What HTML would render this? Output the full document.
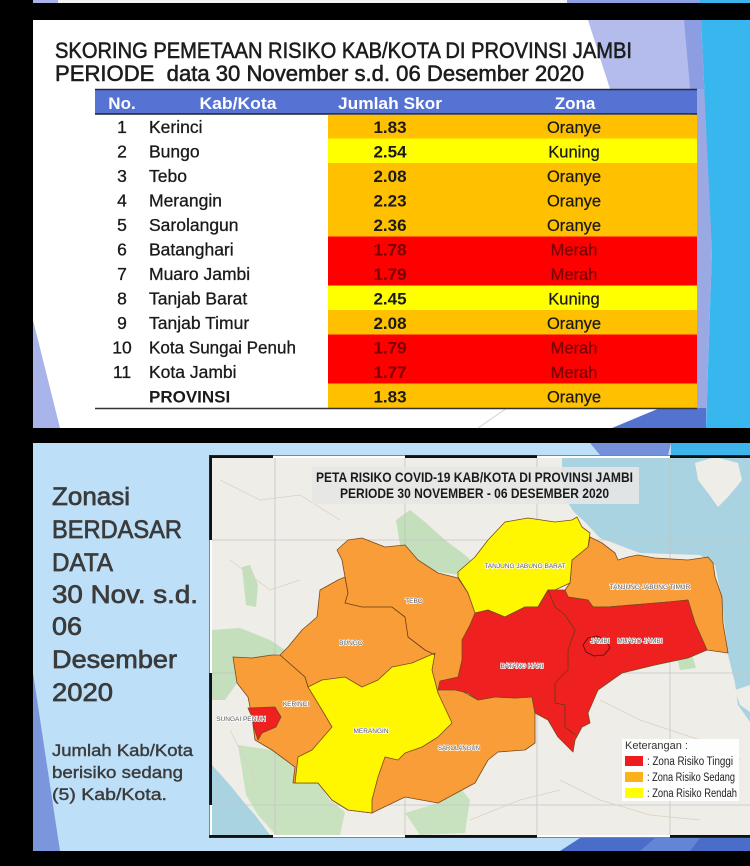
<!DOCTYPE html>
<html><head><meta charset="utf-8"><style>
html,body{margin:0;padding:0;background:#000;}
svg{display:block}
text{font-family:"Liberation Sans",sans-serif}
.nar{font-family:"Liberation Sans Narrow","Liberation Sans",sans-serif}
.lbl{font-size:6.5px;fill:#555;stroke:#fff;stroke-width:1.4px;paint-order:stroke;font-family:"Liberation Sans Narrow","Liberation Sans",sans-serif}
</style></head><body>
<svg width="750" height="866" viewBox="0 0 750 866" xmlns="http://www.w3.org/2000/svg">
<defs>
<clipPath id="mapclip"><rect x="212" y="458" width="538" height="377"/></clipPath>
</defs>
<rect width="750" height="866" fill="#000"/>
<!-- top strip -->
<rect x="33" y="0" width="717" height="3" fill="#f2f2f2"/>
<rect x="33" y="0" width="25" height="3" fill="#a9b5ea"/>
<rect x="567" y="0" width="133" height="3" fill="#8e9fe2"/>
<rect x="700" y="0" width="50" height="3" fill="#3ab5ec"/>

<!-- TOP SLIDE -->
<rect x="33" y="20" width="717" height="408" fill="#ffffff"/>
<polygon points="33,320 60,428 33,428" fill="#a9b5ea"/>
<polygon points="588,20 684,20 698,89 610,89" fill="#b3bcec"/>
<polygon points="684,20 701,20 712,250 700,200" fill="#8d9de1"/>
<polygon points="697,89 708,89 712,250 706,428 697,428" fill="#9aa9e4"/>
<polygon points="701,20 750,20 750,428 706,428 712,250" fill="#38b6ee"/>
<polygon points="612,428 660,408 706,408 706,428" fill="#5473cf"/>
<line x1="478" y1="428" x2="507" y2="408" stroke="#d0d0d0" stroke-width="1"/>

<g fill="#1c1c1c" stroke="#1c1c1c" stroke-width="0.55">
<text x="55" y="58" font-size="22" textLength="577" lengthAdjust="spacingAndGlyphs">SKORING PEMETAAN RISIKO KAB/KOTA DI PROVINSI JAMBI</text>
<text x="55" y="81" font-size="22" textLength="529" lengthAdjust="spacingAndGlyphs" style="white-space:pre">PERIODE  data 30 November s.d. 06 Desember 2020</text>
</g>

<!-- table header -->
<rect x="95" y="89" width="602" height="25" fill="#5673d3"/>
<line x1="95" y1="89.5" x2="697" y2="89.5" stroke="#2a2a3a" stroke-width="1.5"/>
<line x1="95" y1="114" x2="697" y2="114" stroke="#1e1e2a" stroke-width="1.5"/>
<g fill="#fff" font-size="17" font-weight="bold">
<text x="122" y="109" text-anchor="middle">No.</text>
<text x="238" y="109" text-anchor="middle" textLength="77" lengthAdjust="spacingAndGlyphs">Kab/Kota</text>
<text x="390" y="109" text-anchor="middle" textLength="104" lengthAdjust="spacingAndGlyphs">Jumlah Skor</text>
<text x="575" y="109" text-anchor="middle">Zona</text>
</g>

<!-- rows colors -->
<g>
<rect x="328" y="114.8" width="369" height="24.2" fill="#ffc000"/>
<rect x="328" y="138.5" width="369" height="24.5" fill="#ffff00"/>
<rect x="328" y="163" width="369" height="73.5" fill="#ffc000"/>
<rect x="328" y="236.5" width="369" height="49" fill="#ff0000"/>
<rect x="328" y="285.5" width="369" height="24.5" fill="#ffff00"/>
<rect x="328" y="310" width="369" height="24.5" fill="#ffc000"/>
<rect x="328" y="334.5" width="369" height="49" fill="#ff0000"/>
<rect x="328" y="383.5" width="369" height="24.5" fill="#ffc000"/>
</g>
<line x1="95" y1="408.5" x2="697" y2="408.5" stroke="#333" stroke-width="1.6"/>

<g font-size="17.5" fill="#1a1a1a" stroke="#1a1a1a" stroke-width="0.3">
<text x="122" y="133" text-anchor="middle">1</text><text x="149" y="133">Kerinci</text>
<text x="122" y="157.5" text-anchor="middle">2</text><text x="149" y="157.5">Bungo</text>
<text x="122" y="182" text-anchor="middle">3</text><text x="149" y="182">Tebo</text>
<text x="122" y="206.5" text-anchor="middle">4</text><text x="149" y="206.5">Merangin</text>
<text x="122" y="231" text-anchor="middle">5</text><text x="149" y="231">Sarolangun</text>
<text x="122" y="255.5" text-anchor="middle">6</text><text x="149" y="255.5">Batanghari</text>
<text x="122" y="280" text-anchor="middle">7</text><text x="149" y="280">Muaro Jambi</text>
<text x="122" y="304.5" text-anchor="middle">8</text><text x="149" y="304.5">Tanjab Barat</text>
<text x="122" y="329" text-anchor="middle">9</text><text x="149" y="329">Tanjab Timur</text>
<text x="122" y="353.5" text-anchor="middle">10</text><text x="149" y="353.5" textLength="147" lengthAdjust="spacingAndGlyphs">Kota Sungai Penuh</text>
<text x="122" y="378" text-anchor="middle">11</text><text x="149" y="378">Kota Jambi</text>
<text x="149" y="402.5" font-weight="bold" font-size="17" stroke-width="0">PROVINSI</text>
</g>
<g font-size="17" font-weight="bold" text-anchor="middle">
<text x="390" y="133" fill="#1a1a1a">1.83</text>
<text x="390" y="157.5" fill="#1a1a1a">2.54</text>
<text x="390" y="182" fill="#1a1a1a">2.08</text>
<text x="390" y="206.5" fill="#1a1a1a">2.23</text>
<text x="390" y="231" fill="#1a1a1a">2.36</text>
<text x="390" y="255.5" fill="#7a0000">1.78</text>
<text x="390" y="280" fill="#7a0000">1.79</text>
<text x="390" y="304.5" fill="#1a1a1a">2.45</text>
<text x="390" y="329" fill="#1a1a1a">2.08</text>
<text x="390" y="353.5" fill="#7a0000">1.79</text>
<text x="390" y="378" fill="#7a0000">1.77</text>
<text x="390" y="402.5" fill="#1a1a1a">1.83</text>
</g>
<g font-size="16.5" text-anchor="middle" stroke-width="0.25">
<text x="574" y="133" fill="#1a1a1a" stroke="#1a1a1a">Oranye</text>
<text x="574" y="157.5" fill="#1a1a1a" stroke="#1a1a1a">Kuning</text>
<text x="574" y="182" fill="#1a1a1a" stroke="#1a1a1a">Oranye</text>
<text x="574" y="206.5" fill="#1a1a1a" stroke="#1a1a1a">Oranye</text>
<text x="574" y="231" fill="#1a1a1a" stroke="#1a1a1a">Oranye</text>
<text x="574" y="255.5" fill="#7a0000" stroke="#7a0000">Merah</text>
<text x="574" y="280" fill="#7a0000" stroke="#7a0000">Merah</text>
<text x="574" y="304.5" fill="#1a1a1a" stroke="#1a1a1a">Kuning</text>
<text x="574" y="329" fill="#1a1a1a" stroke="#1a1a1a">Oranye</text>
<text x="574" y="353.5" fill="#7a0000" stroke="#7a0000">Merah</text>
<text x="574" y="378" fill="#7a0000" stroke="#7a0000">Merah</text>
<text x="574" y="402.5" fill="#1a1a1a" stroke="#1a1a1a">Oranye</text>
</g>

<!-- LOWER SLIDE -->
<rect x="33" y="443" width="717" height="408" fill="#bde0f8"/>
<polygon points="33,673 60,851 33,851" fill="#7b96dc"/>
<polygon points="590,443 671,443 668,455 600,455" fill="#7590da"/>
<rect x="671" y="443" width="79" height="12" fill="#3db5ec"/>
<polygon points="560,851 580,838 750,838 750,851" fill="#4a6dc9"/>
<polygon points="640,851 655,838 700,838 690,851" fill="#6485d6"/>

<g fill="#3b3b3b" stroke="#3b3b3b" stroke-width="0.7" font-size="25">
<text x="52" y="505" textLength="78" lengthAdjust="spacingAndGlyphs">Zonasi</text>
<text x="52" y="538" textLength="130" lengthAdjust="spacingAndGlyphs">BERDASAR</text>
<text x="52" y="571" textLength="61" lengthAdjust="spacingAndGlyphs">DATA</text>
<text x="52" y="603" textLength="146" lengthAdjust="spacingAndGlyphs">30 Nov. s.d.</text>
<text x="52" y="635" textLength="30" lengthAdjust="spacingAndGlyphs">06</text>
<text x="52" y="668" textLength="125" lengthAdjust="spacingAndGlyphs">Desember</text>
<text x="52" y="701" textLength="61" lengthAdjust="spacingAndGlyphs">2020</text>
</g>
<g fill="#3b3b3b" stroke="#3b3b3b" stroke-width="0.4" font-size="16.5">
<text x="52" y="756" textLength="141" lengthAdjust="spacingAndGlyphs">Jumlah Kab/Kota</text>
<text x="52" y="778" textLength="131" lengthAdjust="spacingAndGlyphs">berisiko sedang</text>
<text x="52" y="800" textLength="115" lengthAdjust="spacingAndGlyphs">(5) Kab/Kota.</text>
</g>

<!-- MAP -->
<g clip-path="url(#mapclip)">
<rect x="212" y="458" width="538" height="377" fill="#efede7"/>
<!-- sea NE -->
<polygon points="562,458 750,458 750,722 738,705 735,683 728,655 722,600 715,565 700,555 640,553 600,538 585,522 574,512 566,500 562,480" fill="#a9d3e0"/>
<polygon points="695,463 715,457 738,463 742,480 728,497 718,507 708,493 698,480" fill="#efede7"/>
<polygon points="735,690 750,685 750,712 740,705" fill="#efede7"/>
<!-- sea SW -->
<polygon points="212,765 230,785 242,800 255,815 270,835 212,835" fill="#a9d3e0"/>
<!-- green -->
<polygon points="396,520 410,510 425,522 445,540 465,555 476,565 460,575 438,572 418,560 400,545" fill="#c3dfbb"/>
<polygon points="242,567 250,565 258,585 256,607 246,605" fill="#c3dfbb"/>
<polygon points="212,630 240,628 270,640 288,652 242,660 233,657 237,683 225,700 212,700" fill="#c3dfbb"/>
<polygon points="238,745 272,750 295,767 293,783 318,783 330,800 345,812 340,835 276,835 258,815 246,795" fill="#c8e2c0"/>
<polygon points="405,813 438,803 462,790 470,800 465,833 420,835" fill="#c8e2c0"/>
<polygon points="675,650 690,647 696,668 680,670" fill="#c3dfbb"/>
<!-- graticule -->
<g stroke="#c4c4c4" stroke-width="0.8">
<line x1="275" y1="458" x2="275" y2="835"/><line x1="405" y1="458" x2="405" y2="835"/>
<line x1="537" y1="458" x2="537" y2="835"/><line x1="670" y1="458" x2="670" y2="835"/>
<line x1="212" y1="540" x2="750" y2="540"/><line x1="212" y1="673" x2="750" y2="673"/>
<line x1="212" y1="805" x2="750" y2="805"/>
</g>
<!-- faint roads -->
<g stroke="#dccfc0" stroke-width="0.7" fill="none">
<path d="M220,480 L260,500 L300,495 L340,520"/>
<path d="M230,560 L270,590 L300,580"/>
<path d="M600,700 L640,720 L700,740 L740,760"/>
<path d="M560,780 L600,800 L650,815 L700,820"/>
<path d="M470,820 L520,800 L560,790"/>
<path d="M230,730 L245,760 L260,790"/>
</g>
<!-- regions -->
<g stroke="#7a4a1e" stroke-width="0.8" stroke-linejoin="round">
<polygon points="233,657 252,658 272,655 280,655 288,647 302,630 317,617 320,590 338,580 345,577 342,560 337,550 348,540 362,538 385,547 405,545 418,560 438,573 458,578 468,593 478,612 470,640 465,663 460,690 478,700 495,697 515,698 532,697 535,713 535,743 525,750 498,752 488,760 475,783 462,790 438,803 405,797 378,810 372,813 348,810 332,800 318,783 293,783 295,767 272,750 255,740 252,717 248,697 237,683" fill="#f89d38"/>
<polygon points="590,537 602,543 615,553 618,560 628,557 638,555 655,558 688,560 708,557 713,563 715,577 722,597 723,623 728,653 707,650 695,623 688,600 668,602 608,607 593,607 588,600 568,597 565,590 570,583 572,560 588,547" fill="#f89d38"/>
<polygon points="308,687 322,680 345,677 362,687 378,680 392,667 412,663 435,653 432,670 438,693 452,723 438,737 422,747 405,753 398,760 385,757 378,777 372,800 372,813 348,810 332,800 318,783 295,783 298,757 312,750 332,727 322,710" fill="#fff700"/>
<polygon points="458,572 475,557 488,540 505,522 528,518 555,522 572,520 577,517 582,527 590,533 588,547 572,560 570,583 555,590 548,590 538,607 525,607 505,617 488,610 475,613 468,593 458,577" fill="#fff700"/>
<polygon points="438,690 440,681 458,677 462,660 462,640 470,625 475,613 488,610 505,617 525,607 538,607 548,590 565,590 568,597 588,600 593,607 608,607 668,602 688,600 695,623 707,650 688,658 655,665 622,673 612,680 598,690 588,713 590,723 582,727 575,740 573,752 558,737 548,720 535,713 532,697 515,698 495,697 478,700 468,693 455,690" fill="#ee2020"/>
<polygon points="248,708 275,707 281,717 276,727 262,733 258,740 254,728 252,717" fill="#ee2020"/>
<polygon points="583,645 588,638 597,636 606,640 610,648 604,655 594,656 586,652" fill="#ee2020" stroke="#5a0a0a"/>
</g>
<g stroke="#6a3a16" stroke-width="0.8" fill="none">
<polyline points="345,577 348,593 345,603 362,607 392,607 405,617 408,637 425,650 435,655"/>
<polyline points="280,655 305,677 308,687"/>
<polyline points="548,590 555,607 565,615 575,630 568,650 568,670 555,683 555,703 565,705 565,727 575,735"/>
</g>
<!-- labels -->
<text class="lbl" x="525" y="568" text-anchor="middle">TANJUNG JABUNG BARAT</text>
<text class="lbl" x="650" y="589" text-anchor="middle">TANJUNG JABUNG TIMUR</text>
<text class="lbl" x="414" y="603" text-anchor="middle">TEBO</text>
<text class="lbl" x="351" y="645" text-anchor="middle">BUNGO</text>
<text class="lbl" x="522" y="668" text-anchor="middle">BATANG HARI</text>
<text class="lbl" x="600" y="643" text-anchor="middle">JAMBI</text>
<text class="lbl" x="640" y="643" text-anchor="middle">MUARO JAMBI</text>
<text class="lbl" x="296" y="706" text-anchor="middle">KERINCI</text>
<text class="lbl" x="241" y="721" text-anchor="middle">SUNGAI PENUH</text>
<text class="lbl" x="371" y="733" text-anchor="middle">MERANGIN</text>
<text class="lbl" x="459" y="750" text-anchor="middle" textLength="42" lengthAdjust="spacingAndGlyphs">SAROLANGUN</text>
<!-- title box -->
<rect x="312" y="467" width="327" height="37" fill="#e6e6e4" opacity="0.9"/>
<text class="nar" x="474.5" y="482" font-size="14" font-weight="bold" fill="#1a1a1a" text-anchor="middle" textLength="317" lengthAdjust="spacingAndGlyphs">PETA RISIKO COVID-19 KAB/KOTA DI PROVINSI JAMBI</text>
<text class="nar" x="474.5" y="498" font-size="14" font-weight="bold" fill="#1a1a1a" text-anchor="middle" textLength="269" lengthAdjust="spacingAndGlyphs">PERIODE 30 NOVEMBER - 06 DESEMBER 2020</text>
<!-- legend -->
<rect x="622" y="739" width="117" height="62" fill="#ffffff" opacity="0.93"/>
<text x="625" y="749" font-size="11" fill="#333">Keterangan :</text>
<rect x="625" y="756" width="18" height="10" fill="#ee1c1c"/>
<rect x="625" y="772" width="18" height="10" fill="#fbb21a"/>
<rect x="625" y="788" width="18" height="10" fill="#ffff00"/>
<g font-size="11.5" fill="#222">
<text x="647" y="765" textLength="86" lengthAdjust="spacingAndGlyphs">: Zona Risiko Tinggi</text>
<text x="647" y="781" textLength="88" lengthAdjust="spacingAndGlyphs">: Zona Risiko Sedang</text>
<text x="647" y="797" textLength="90" lengthAdjust="spacingAndGlyphs">: Zona Risiko Rendah</text>
</g>
</g>
<!-- map frame -->
<g>
<rect x="209" y="455" width="541" height="3" fill="#fff"/>
<rect x="209" y="835" width="541" height="3" fill="#fff"/>
<rect x="209" y="455" width="3" height="383" fill="#fff"/>
<g fill="#111">
<rect x="209" y="455" width="64" height="3"/><rect x="405" y="455" width="132" height="3"/><rect x="670" y="455" width="80" height="3"/>
<rect x="209" y="835" width="64" height="3"/><rect x="405" y="835" width="132" height="3"/><rect x="670" y="835" width="80" height="3"/>
<rect x="209" y="455" width="3" height="85"/><rect x="209" y="673" width="3" height="132"/>
</g>
<rect x="209.5" y="455.5" width="545" height="382" fill="none" stroke="#333" stroke-width="0.6"/>
</g>
</svg>
</body></html>
